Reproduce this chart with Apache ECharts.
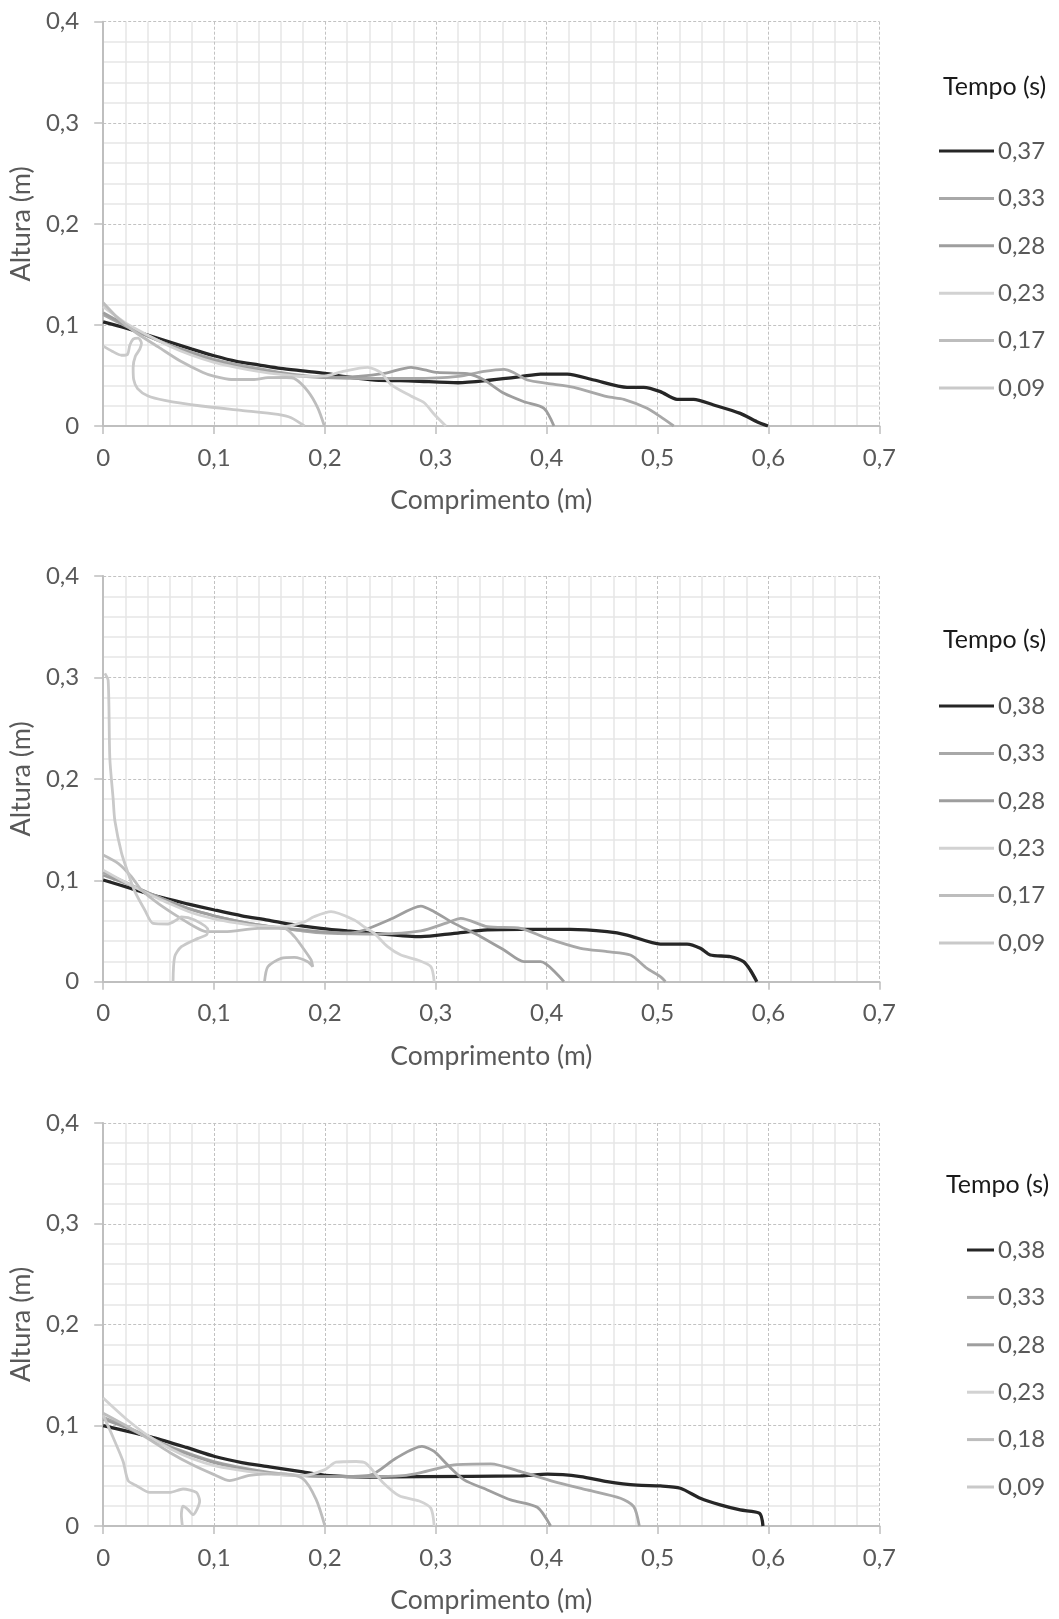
<!DOCTYPE html>
<html><head><meta charset="utf-8">
<script src="https://cdn.jsdelivr.net/npm/echarts@6/dist/echarts.min.js"></script>
<style>html,body{margin:0;padding:0;background:#fff;width:1059px;height:1619px;overflow:hidden}.c{position:absolute;left:0;width:1059px}</style>
</head><body>
<div id="c1" class="c" style="top:0;height:540px"></div>
<div id="c2" class="c" style="top:540px;height:540px"></div>
<div id="c3" class="c" style="top:1080px;height:539px"></div>
<script>
// ---- tick labels ----
const xTickLabels = ['0','0,1','0,2','0,3','0,4','0,5','0,6','0,7'];
const yTickLabels = ['0','0,1','0,2','0,3','0,4'];
const xTitle = 'Comprimento (m)';
const yTitle = 'Altura (m)';
const legendTitle = 'Tempo (s)';

// ---- chart 1 ----
const names1 = ['0,37','0,33','0,28','0,23','0,17','0,09'];
const c1_037 = [[0,0.103],[0.02,0.097],[0.04,0.09],[0.06,0.083],[0.08,0.076],[0.1,0.0695],[0.12,0.064],[0.14,0.0605],[0.16,0.057],[0.18,0.0545],[0.2,0.052],[0.22,0.0485],[0.245,0.0455],[0.28,0.0445],[0.32,0.0428],[0.35,0.0455],[0.3765,0.0488],[0.3945,0.0514],[0.4185,0.0514],[0.4425,0.0455],[0.4725,0.0383],[0.4875,0.0383],[0.5025,0.034],[0.5175,0.0264],[0.5325,0.0264],[0.5505,0.0208],[0.5745,0.0125],[0.5895,0.0043],[0.5995,0]];
const c1_033 = [[0,0.11],[0.02,0.099],[0.04,0.089],[0.06,0.08],[0.08,0.073],[0.1,0.066],[0.12,0.061],[0.14,0.057],[0.16,0.053],[0.18,0.05],[0.2,0.048],[0.24,0.047],[0.28,0.047],[0.32,0.049],[0.3435,0.054],[0.3615,0.056],[0.37,0.053],[0.3825,0.0455],[0.4005,0.0422],[0.4245,0.0383],[0.4545,0.029],[0.4695,0.0264],[0.4905,0.0175],[0.5025,0.0092],[0.5145,0]];
const c1_028 = [[0,0.112],[0.02,0.1],[0.04,0.089],[0.06,0.08],[0.08,0.072],[0.1,0.065],[0.12,0.059],[0.14,0.055],[0.16,0.052],[0.18,0.049],[0.2,0.048],[0.23,0.049],[0.2535,0.052],[0.2775,0.058],[0.29,0.0555],[0.3015,0.053],[0.3285,0.0517],[0.3435,0.0455],[0.3615,0.0323],[0.3795,0.024],[0.3975,0.0175],[0.4065,0]];
const c1_023 = [[0,0.118],[0.02,0.102],[0.04,0.09],[0.06,0.079],[0.08,0.07],[0.1,0.063],[0.12,0.058],[0.14,0.054],[0.16,0.051],[0.18,0.049],[0.2,0.0495],[0.2175,0.0544],[0.2385,0.058],[0.2505,0.0528],[0.2595,0.041],[0.2775,0.0297],[0.2895,0.023],[0.2985,0.0116],[0.309,0]];
const c1_017 = [[0,0.122],[0.015,0.105],[0.03,0.092],[0.05,0.078],[0.07,0.064],[0.09,0.053],[0.1005,0.049],[0.1155,0.046],[0.135,0.046],[0.1485,0.0478],[0.165,0.048],[0.1725,0.047],[0.1845,0.0346],[0.1935,0.018],[0.1995,0]];
const c1_009 = [[0,0.079],[0.008,0.074],[0.0165,0.07],[0.022,0.071],[0.024,0.08],[0.027,0.086],[0.0315,0.087],[0.0345,0.082],[0.033,0.076],[0.029,0.069],[0.027,0.058],[0.0275,0.046],[0.031,0.037],[0.04,0.03],[0.0555,0.0254],[0.0885,0.0198],[0.1245,0.0155],[0.1575,0.0115],[0.1695,0.0082],[0.1815,0]];

// ---- chart 2 ----
const names2 = ['0,38','0,33','0,28','0,23','0,17','0,09'];
const c2_038 = [[0,0.1003],[0.025,0.092],[0.0495,0.0838],[0.075,0.077],[0.1005,0.0707],[0.125,0.065],[0.1485,0.0608],[0.17,0.0565],[0.1965,0.0526],[0.22,0.05],[0.2445,0.0477],[0.2865,0.0444],[0.3165,0.0477],[0.3465,0.051],[0.3765,0.0516],[0.4215,0.0516],[0.4545,0.0493],[0.4725,0.046],[0.5025,0.0371],[0.5265,0.0371],[0.5385,0.0329],[0.5475,0.0263],[0.5655,0.0247],[0.5775,0.0197],[0.5835,0.0115],[0.5895,0]];
const c2_033 = [[0,0.108],[0.02,0.098],[0.04,0.088],[0.06,0.079],[0.08,0.071],[0.1,0.065],[0.12,0.06],[0.14,0.056],[0.16,0.053],[0.18,0.05],[0.2,0.048],[0.25,0.047],[0.2865,0.05],[0.31,0.058],[0.3225,0.0625],[0.3465,0.0542],[0.3765,0.0526],[0.4005,0.0427],[0.4305,0.0329],[0.4545,0.0296],[0.4755,0.0263],[0.4905,0.0131],[0.5025,0.0049],[0.507,0]];
const c2_028 = [[0,0.105],[0.02,0.097],[0.04,0.088],[0.06,0.079],[0.08,0.071],[0.1,0.065],[0.12,0.06],[0.14,0.056],[0.16,0.053],[0.18,0.051],[0.2,0.049],[0.22,0.048],[0.2355,0.051],[0.26,0.062],[0.2865,0.0746],[0.2985,0.069],[0.3165,0.0575],[0.3405,0.0444],[0.3615,0.0312],[0.3795,0.0197],[0.3945,0.0197],[0.4155,0]];
const c2_023 = [[0,0.11],[0.02,0.098],[0.04,0.087],[0.06,0.077],[0.08,0.068],[0.1,0.062],[0.12,0.058],[0.14,0.055],[0.16,0.054],[0.1815,0.059],[0.19,0.064],[0.2055,0.069],[0.2265,0.0608],[0.2355,0.054],[0.2445,0.0477],[0.2565,0.0345],[0.2685,0.0263],[0.2835,0.0214],[0.2955,0.0148],[0.2985,0]];
const c2_017 = [[0,0.125],[0.0135,0.1167],[0.0255,0.1035],[0.0345,0.0904],[0.0495,0.0773],[0.0675,0.0641],[0.0825,0.0542],[0.093,0.0493],[0.1095,0.0493],[0.1395,0.0526],[0.1635,0.0526],[0.1725,0.0444],[0.1815,0.0312],[0.1875,0.0214],[0.189,0.0148],[0.1845,0.0197],[0.1725,0.024],[0.1605,0.023],[0.1485,0.0148],[0.1455,0]];
const c2_009 = [[0.0015,0.304],[0.0045,0.297],[0.006,0.22],[0.009,0.18],[0.0105,0.159],[0.0165,0.127],[0.0225,0.107],[0.0285,0.089],[0.0375,0.0707],[0.045,0.0575],[0.0585,0.0569],[0.066,0.0608],[0.0705,0.064],[0.0825,0.0608],[0.0945,0.051],[0.093,0.046],[0.0855,0.0427],[0.0705,0.0345],[0.0645,0.0246],[0.063,0]];

// ---- chart 3 ----
const names3 = ['0,38','0,33','0,28','0,23','0,18','0,09'];
const c3_038 = [[0,0.0997],[0.045,0.0878],[0.075,0.078],[0.1007,0.069],[0.125,0.063],[0.15,0.0588],[0.18,0.0537],[0.2,0.0503],[0.24,0.0486],[0.2865,0.0491],[0.3765,0.0497],[0.4005,0.0514],[0.4305,0.0491],[0.4545,0.0441],[0.4815,0.0405],[0.5025,0.0398],[0.5205,0.0375],[0.5385,0.0275],[0.5565,0.0209],[0.5745,0.0159],[0.592,0.0126],[0.595,0]];
const c3_033 = [[0,0.108],[0.02,0.099],[0.04,0.089],[0.06,0.079],[0.08,0.071],[0.1,0.064],[0.12,0.059],[0.14,0.055],[0.16,0.052],[0.18,0.05],[0.2,0.049],[0.24,0.049],[0.27,0.05],[0.2865,0.053],[0.3165,0.0607],[0.3495,0.0617],[0.3765,0.054],[0.4065,0.0441],[0.4365,0.0358],[0.4665,0.0275],[0.4785,0.0192],[0.4835,0]];
const c3_028 = [[0,0.106],[0.02,0.098],[0.04,0.088],[0.06,0.078],[0.08,0.07],[0.1,0.063],[0.12,0.058],[0.14,0.054],[0.16,0.051],[0.18,0.05],[0.2,0.049],[0.24,0.0503],[0.264,0.0673],[0.2875,0.079],[0.2985,0.074],[0.3105,0.0607],[0.3255,0.0458],[0.3465,0.0358],[0.3675,0.0259],[0.3915,0.0186],[0.4035,0]];
const c3_023 = [[0,0.127],[0.02,0.107],[0.04,0.09],[0.06,0.077],[0.08,0.067],[0.1,0.06],[0.12,0.056],[0.14,0.053],[0.16,0.051],[0.18,0.05],[0.2,0.056],[0.21,0.0633],[0.228,0.064],[0.237,0.0622],[0.252,0.0435],[0.267,0.03],[0.285,0.0248],[0.2955,0.0176],[0.2985,0]];
const c3_018 = [[0,0.112],[0.02,0.1],[0.04,0.087],[0.06,0.073],[0.08,0.061],[0.1,0.051],[0.114,0.045],[0.132,0.0503],[0.16,0.052],[0.18,0.047],[0.192,0.0265],[0.2,0]];
const c3_009 = [[0,0.11],[0.009,0.0878],[0.018,0.064],[0.0225,0.045],[0.03,0.04],[0.042,0.0333],[0.06,0.0333],[0.072,0.0367],[0.084,0.0333],[0.087,0.0248],[0.081,0.0112],[0.0765,0.0163],[0.072,0.0197],[0.0705,0.0112],[0.0714,0]];

// ---- styles (kept apart from data) ----
const lineColors = ['#262626','#a8a8a8','#9e9e9e','#d2d2d2','#bdbdbd','#c9c9c9'];
const lineWidths = [3.3, 2.8, 2.8, 2.8, 2.8, 2.8];
const FONT = 'Lato';
const TXT = '#595959';

function makeOption(names, datas, L) {
  return {
    animation: false,
    textStyle: { fontFamily: FONT },
    title: { text: legendTitle, left: L.titleLeft, top: L.titleTop, padding: 0,
      textStyle: { fontFamily: FONT, fontSize: 25, fontWeight: 'normal', color: '#1a1a1a' } },
    legend: {
      orient: 'vertical', left: L.legendLeft, top: L.legendTop, padding: 0,
      icon: 'rect', itemWidth: L.iconW, itemHeight: 3, itemGap: 23.4,
      data: names, selectedMode: false,
      textStyle: { fontFamily: FONT, fontSize: 24, lineHeight: 24, color: TXT, padding: [0,0,0,-1] }
    },
    grid: { left: 101.7, top: L.gridTop, width: 777.7, height: L.gridH, containLabel: false },
    xAxis: {
      type: 'value', min: 0, max: 0.7, interval: 0.1,
      name: xTitle, nameLocation: 'middle', nameGap: 61,
      nameTextStyle: { fontFamily: FONT, fontSize: 26.5, color: TXT },
      axisLine: { show: true, onZero: false, lineStyle: { color: '#bfbfbf', width: 2 } },
      axisTick: { show: true, inside: false, length: 8, lineStyle: { color: '#bfbfbf', width: 1.5 } },
      axisLabel: { margin: 20, color: TXT, fontSize: 24, fontFamily: FONT,
        formatter: v => xTickLabels[Math.round(v * 10)] },
      splitLine: { show: true, lineStyle: { color: '#c2c2c2', width: 1, type: [3, 2] } },
      minorTick: { show: false, splitNumber: 5 },
      minorSplitLine: { show: true, lineStyle: { color: '#e6e6e6', width: 1.5 } }
    },
    yAxis: {
      type: 'value', min: 0, max: 0.4, interval: 0.1,
      name: yTitle, nameLocation: 'middle', nameGap: 64, nameRotate: 90,
      nameTextStyle: { fontFamily: FONT, fontSize: 27, color: TXT },
      axisLine: { show: true, onZero: false, lineStyle: { color: '#bfbfbf', width: 2 } },
      axisTick: { show: true, inside: false, length: 9, lineStyle: { color: '#bfbfbf', width: 1.5 } },
      axisLabel: { margin: 24, color: TXT, fontSize: 24, fontFamily: FONT,
        formatter: v => yTickLabels[Math.round(v * 10)] },
      splitLine: { show: true, lineStyle: { color: '#c2c2c2', width: 1, type: [3, 2] } },
      minorTick: { show: false, splitNumber: 5 },
      minorSplitLine: { show: true, lineStyle: { color: '#e6e6e6', width: 1.5 } }
    },
    series: names.map((n, i) => ({
      name: n, type: 'line', data: datas[i], symbol: 'none', smooth: 0.25,
      clip: true,
      lineStyle: { color: lineColors[i], width: lineWidths[i] },
      itemStyle: { color: lineColors[i] },
      emphasis: { disabled: true }
    }))
  };
}

const layouts = [
  { gridTop: 21.7, gridH: 404.3, titleLeft: 943, titleTop: 74, legendLeft: 939, legendTop: 139, iconW: 55 },
  { gridTop: 36, gridH: 405.7, titleLeft: 943, titleTop: 87, legendLeft: 939, legendTop: 154, iconW: 55 },
  { gridTop: 43, gridH: 403, titleLeft: 946, titleTop: 92, legendLeft: 967, legendTop: 158, iconW: 27 }
];

const ch1 = echarts.init(document.getElementById('c1'), null, { renderer: 'canvas' });
ch1.setOption(makeOption(names1, [c1_037, c1_033, c1_028, c1_023, c1_017, c1_009], layouts[0]));
const ch2 = echarts.init(document.getElementById('c2'), null, { renderer: 'canvas' });
ch2.setOption(makeOption(names2, [c2_038, c2_033, c2_028, c2_023, c2_017, c2_009], layouts[1]));
const ch3 = echarts.init(document.getElementById('c3'), null, { renderer: 'canvas' });
ch3.setOption(makeOption(names3, [c3_038, c3_033, c3_028, c3_023, c3_018, c3_009], layouts[2]));
</script>
</body></html>
